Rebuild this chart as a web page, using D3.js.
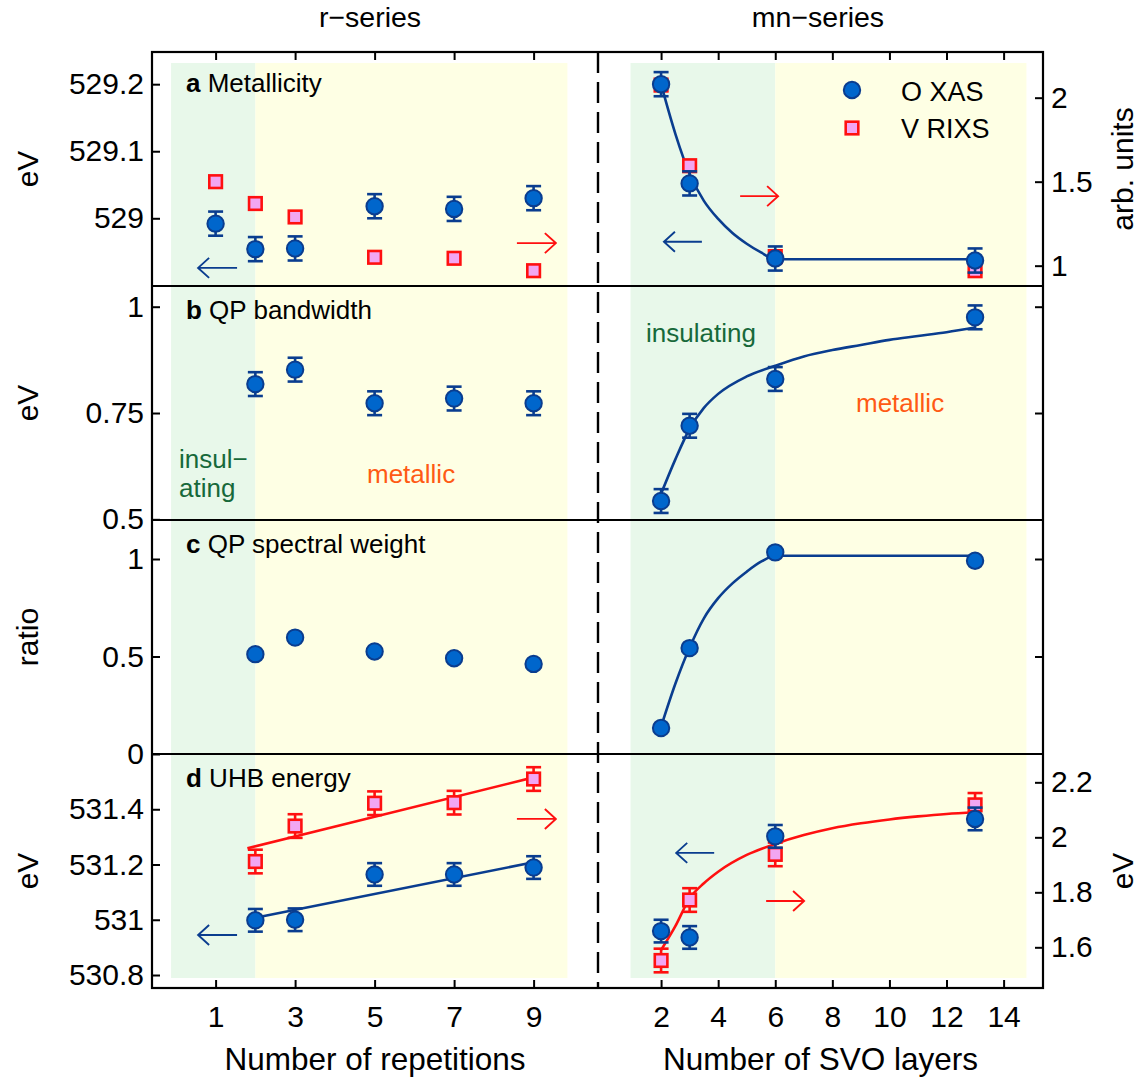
<!DOCTYPE html>
<html>
<head>
<meta charset="utf-8">
<script src="https://cdn.jsdelivr.net/npm/d3@7"></script>
<style>
  body { margin: 0; background: #fff; }
  svg { display: block; font-family: "Liberation Sans", Arial, sans-serif; }
</style>
</head>
<body>
<script>
// ---- data ----
const rReps = [1, 2, 3, 5, 7, 9];        // r-series, panel a
const rRepsB = [2, 3, 5, 7, 9];          // r-series, panels b-d
const mnLayers = [2, 3, 6, 13];          // mn-series

// a  Metallicity  (O XAS on left eV axis, V RIXS on right arb. units axis)
const aRxas = [528.992, 528.954, 528.955, 529.018, 529.014, 529.030];
const aRrixs = [1.50, 1.37, 1.29, 1.05, 1.044, 0.97];
const aMnXas = [529.200, 529.052, 528.940, 528.937];
const aMnRixs = [2.075, 1.595, 1.054, 0.97];
const aErr = 0.018;
const aFitX = [2, 2.5, 3, 3.5, 4, 4.5, 5, 5.5, 6, 13];
const aFitY = [529.2, 529.126, 529.066, 529.026, 528.999, 528.978, 528.962, 528.949, 528.939, 528.939];

// b  QP bandwidth
const bR = [0.818, 0.852, 0.773, 0.784, 0.773];
const bMn = [0.543, 0.72, 0.83, 0.975];
const bErr = 0.028;
const bFitX = [2, 2.5, 3, 3.5, 4, 5, 6, 7, 8, 9, 10, 11, 12, 13];
const bFitY = [0.56, 0.641, 0.713, 0.762, 0.795, 0.836, 0.861, 0.883, 0.898, 0.910, 0.922, 0.931, 0.940, 0.951];

// c  QP spectral weight
const cR = [0.512, 0.597, 0.526, 0.491, 0.462];
const cMn = [0.133, 0.543, 1.034, 0.991];
const cFitX = [2, 2.5, 3, 3.5, 4, 4.5, 5, 5.5, 6, 13];
const cFitY = [0.14, 0.36, 0.546, 0.696, 0.799, 0.875, 0.935, 0.986, 1.017, 1.017];

// d  UHB energy  (O XAS on left eV axis, V RIXS on right eV axis)
const dRxas = [530.998, 531.0, 531.164, 531.164, 531.189];
const dRrixs = [1.912, 2.041, 2.124, 2.126, 2.212];
const dMnXas = [530.959, 530.936, 531.302, 531.365];
const dMnRixs = [1.552, 1.772, 1.938, 2.118];
const dErrXas = 0.041, dErrRixs = 0.043;
const dRFitXasX = [2, 9], dRFitXasY = [531.007, 531.208];
const dRFitRixsX = [1.8, 9], dRFitRixsY = [1.96, 2.218];
const dMnFitX = [2, 2.5, 3, 3.5, 4, 5, 6, 7, 8, 9, 10, 11, 12, 13];
const dMnFitY = [1.59, 1.677, 1.778, 1.833, 1.875, 1.936, 1.976, 2.008, 2.033, 2.051, 2.065, 2.076, 2.085, 2.091];

// axis ticks
const xTicksR = [1, 3, 5, 7, 9];
const xTicksMn = [2, 4, 6, 8, 10, 12, 14];
const yTicksL = [[529.2, 529.1, 529], [1, 0.75, 0.5], [1, 0.5, 0], [531.4, 531.2, 531, 530.8]];
const yTicksR = [[2, 1.5, 1], [1, 0.75], [1, 0.5], [2.2, 2, 1.8, 1.6]];
const yLabelsL = ["eV", "eV", "ratio", "eV"];
const panelNames = [["a", " Metallicity"], ["b", " QP bandwidth"], ["c", " QP spectral weight"], ["d", " UHB energy"]];

// regime shading (insulating | metallic) in x units
const regimeR = [-0.12, 2, 9.85];
const regimeMn = [0.93, 6, 14.8];

// ---- layout ----
const W = 1142, H = 1081;
const L = 152, M = 598, R = 1043;
const rowTop = [52, 286, 520, 754], rowH = 234, bottom = 988;
const blue = "#0066cc", navy = "#0a3d8f", pink = "#f2a6f2", red = "#ff1010";
const green = "#e8f8ea", yellow = "#feffe4";

const svg = d3.create("svg").attr("width", W).attr("height", H).attr("viewBox", `0 0 ${W} ${H}`);

const xR = d3.scaleLinear().domain([-0.6, 10.62]).range([L, M]);
const xMn = d3.scaleLinear().domain([-0.21, 15.38]).range([M, R]);

const yDomL = [[528.899, 529.248], [0.4984, 1.0487], [0, 1.2], [530.753, 531.6]];
const yDomR = [[0.879, 2.272], [0.4984, 1.0487], [0, 1.2], [1.452, 2.303]];
const yL = yDomL.map((d, i) => d3.scaleLinear().domain(d).range([rowTop[i] + rowH, rowTop[i]]));
const yRt = yDomR.map((d, i) => d3.scaleLinear().domain(d).range([rowTop[i] + rowH, rowTop[i]]));

const fmt = d => String(+d.toFixed(3));

// shading bands
const bands = [
  {x: xR, a: regimeR[0], b: regimeR[1], c: green}, {x: xR, a: regimeR[1], b: regimeR[2], c: yellow},
  {x: xMn, a: regimeMn[0], b: regimeMn[1], c: green}, {x: xMn, a: regimeMn[1], b: regimeMn[2], c: yellow}
];
svg.append("g").selectAll("rect").data(bands).join("rect")
  .attr("x", d => d.x(d.a)).attr("width", d => d.x(d.b) - d.x(d.a))
  .attr("y", 63).attr("height", 978 - 63).attr("fill", d => d.c);

// axes
rowTop.forEach((top, i) => {
  const gl = svg.append("g").attr("transform", `translate(${L},0)`)
    .call(d3.axisLeft(yL[i]).tickValues(yTicksL[i]).tickSize(-8).tickPadding(8).tickFormat(fmt));
  const gr = svg.append("g").attr("transform", `translate(${R},0)`)
    .call(d3.axisRight(yRt[i]).tickValues(yTicksR[i]).tickSize(-8).tickPadding(8)
      .tickFormat(i === 0 || i === 3 ? fmt : () => ""));
  [gl, gr].forEach(g => {
    g.select(".domain").remove();
    g.selectAll("line").attr("stroke", "#000").attr("stroke-width", 2);
    g.selectAll("text").attr("font-size", 30).attr("fill", "#000").attr("font-family", null);
  });
  // left axis title
  svg.append("text")
    .attr("transform", `translate(38,${top + rowH / 2}) rotate(-90)`)
    .attr("text-anchor", "middle").attr("font-size", 30).text(yLabelsL[i]);
  // panel label
  const t = svg.append("text").attr("x", 186).attr("y", top + (i === 0 ? 40 : 33)).attr("font-size", 26);
  t.append("tspan").attr("font-weight", "bold").text(panelNames[i][0]);
  t.append("tspan").text(panelNames[i][1]);
});

svg.append("text").attr("transform", `translate(1133,${rowTop[0] + rowH / 2}) rotate(-90)`)
  .attr("text-anchor", "middle").attr("font-size", 30).text("arb. units");
svg.append("text").attr("transform", `translate(1133,${rowTop[3] + rowH / 2}) rotate(-90)`)
  .attr("text-anchor", "middle").attr("font-size", 30).text("eV");

// x axes (bottom labelled, top ticks only)
[[xR, xTicksR], [xMn, xTicksMn]].forEach(([x, tv]) => {
  const gb = svg.append("g").attr("transform", `translate(0,${bottom})`)
    .call(d3.axisBottom(x).tickValues(tv).tickSize(-8).tickFormat(fmt));
  gb.selectAll("text").attr("y", 39).attr("dy", null).attr("font-size", 30).attr("fill", "#000").attr("font-family", null);
  const gt = svg.append("g").attr("transform", `translate(0,${rowTop[0]})`)
    .call(d3.axisTop(x).tickValues(tv).tickSize(-8).tickFormat(() => ""));
  [gb, gt].forEach(g => {
    g.select(".domain").remove();
    g.selectAll("line").attr("stroke", "#000").attr("stroke-width", 2);
  });
});

svg.append("text").attr("x", (L + M) / 2).attr("y", 1070).attr("text-anchor", "middle")
  .attr("font-size", 31.5).text("Number of repetitions");
svg.append("text").attr("x", (M + R) / 2).attr("y", 1070).attr("text-anchor", "middle")
  .attr("font-size", 31.5).text("Number of SVO layers");
svg.append("text").attr("x", 370).attr("y", 27).attr("text-anchor", "middle")
  .attr("font-size", 28.5).text("r\u2212series");
svg.append("text").attr("x", 818).attr("y", 27).attr("text-anchor", "middle")
  .attr("font-size", 28.5).text("mn\u2212series");

// frame, separators, dashed divider
svg.append("rect").attr("x", L).attr("y", rowTop[0]).attr("width", R - L).attr("height", bottom - rowTop[0])
  .attr("fill", "none").attr("stroke", "#000").attr("stroke-width", 2.2);
rowTop.slice(1).forEach(y => svg.append("line").attr("x1", L).attr("x2", R).attr("y1", y).attr("y2", y)
  .attr("stroke", "#000").attr("stroke-width", 2));
svg.append("line").attr("x1", M).attr("x2", M).attr("y1", rowTop[0]).attr("y2", bottom)
  .attr("stroke", "#000").attr("stroke-width", 2.4).attr("stroke-dasharray", "21,9");

// fit curves
const fits = [
  {p: 0, x: xMn, xs: aFitX, ys: aFitY, y: "L", c: navy},
  {p: 1, x: xMn, xs: bFitX, ys: bFitY, y: "L", c: navy},
  {p: 2, x: xMn, xs: cFitX, ys: cFitY, y: "L", c: navy},
  {p: 3, x: xR, xs: dRFitRixsX, ys: dRFitRixsY, y: "R", c: red},
  {p: 3, x: xR, xs: dRFitXasX, ys: dRFitXasY, y: "L", c: navy},
  {p: 3, x: xMn, xs: dMnFitX, ys: dMnFitY, y: "R", c: red}
];
fits.forEach(f => {
  const ys = f.y === "L" ? yL[f.p] : yRt[f.p];
  const line = d3.line().x(d => f.x(d[0])).y(d => ys(d[1])).curve(d3.curveMonotoneX);
  svg.append("path").datum(d3.zip(f.xs, f.ys)).attr("d", line)
    .attr("fill", "none").attr("stroke", f.c).attr("stroke-width", 2.6);
});

// marker series
const series = [
  {p: 0, x: xR, xs: rReps, ys: aRrixs, y: "R", kind: "sq", err: 0},
  {p: 0, x: xMn, xs: mnLayers, ys: aMnRixs, y: "R", kind: "sq", err: 0},
  {p: 3, x: xR, xs: rRepsB, ys: dRrixs, y: "R", kind: "sq", err: dErrRixs},
  {p: 3, x: xMn, xs: mnLayers, ys: dMnRixs, y: "R", kind: "sq", err: dErrRixs},
  {p: 0, x: xR, xs: rReps, ys: aRxas, y: "L", kind: "ci", err: aErr},
  {p: 0, x: xMn, xs: mnLayers, ys: aMnXas, y: "L", kind: "ci", err: aErr},
  {p: 1, x: xR, xs: rRepsB, ys: bR, y: "L", kind: "ci", err: bErr},
  {p: 1, x: xMn, xs: mnLayers, ys: bMn, y: "L", kind: "ci", err: bErr},
  {p: 2, x: xR, xs: rRepsB, ys: cR, y: "L", kind: "ci", err: 0},
  {p: 2, x: xMn, xs: mnLayers, ys: cMn, y: "L", kind: "ci", err: 0},
  {p: 3, x: xR, xs: rRepsB, ys: dRxas, y: "L", kind: "ci", err: dErrXas},
  {p: 3, x: xMn, xs: mnLayers, ys: dMnXas, y: "L", kind: "ci", err: dErrXas}
];
series.forEach(s => {
  const ys = s.y === "L" ? yL[s.p] : yRt[s.p];
  const pts = d3.zip(s.xs, s.ys);
  const col = s.kind === "ci" ? navy : red;
  const g = svg.append("g");
  if (s.err) {
    const eb = g.selectAll("g.eb").data(pts).join("g").attr("stroke", col).attr("stroke-width", 2.6);
    eb.append("line").attr("x1", d => s.x(d[0])).attr("x2", d => s.x(d[0]))
      .attr("y1", d => ys(d[1] - s.err)).attr("y2", d => ys(d[1] + s.err));
    [-1, 1].forEach(k => eb.append("line")
      .attr("x1", d => s.x(d[0]) - 7.5).attr("x2", d => s.x(d[0]) + 7.5)
      .attr("y1", d => ys(d[1] + k * s.err)).attr("y2", d => ys(d[1] + k * s.err)));
  }
  if (s.kind === "ci") {
    g.selectAll("circle").data(pts).join("circle")
      .attr("cx", d => s.x(d[0])).attr("cy", d => ys(d[1])).attr("r", 8.2)
      .attr("fill", blue).attr("stroke", navy).attr("stroke-width", 2);
  } else {
    g.selectAll("rect").data(pts).join("rect")
      .attr("x", d => s.x(d[0]) - 6.3).attr("y", d => ys(d[1]) - 6.3).attr("width", 12.6).attr("height", 12.6)
      .attr("fill", pink).attr("stroke", red).attr("stroke-width", 2.6);
  }
});

// axis-pointing arrows, in data units of the left axis
const arrows = [
  {p: 0, x: xR, x0: 1.54, x1: 0.56, v: 528.926, c: navy},
  {p: 0, x: xR, x0: 8.58, x1: 9.56, v: 528.963, c: red},
  {p: 0, x: xMn, x0: 4.77, x1: 6.1, v: 529.033, c: red},
  {p: 0, x: xMn, x0: 3.43, x1: 2.10, v: 528.965, c: navy},
  {p: 3, x: xR, x0: 8.58, x1: 9.56, v: 531.365, c: red},
  {p: 3, x: xR, x0: 1.54, x1: 0.56, v: 530.945, c: navy},
  {p: 3, x: xMn, x0: 3.86, x1: 2.53, v: 531.242, c: navy},
  {p: 3, x: xMn, x0: 5.68, x1: 7.01, v: 531.068, c: red}
];
arrows.forEach(a => {
  const y = yL[a.p](a.v), xa = a.x(a.x0), xb = a.x(a.x1), dir = Math.sign(xb - xa);
  svg.append("path")
    .attr("d", `M${xa},${y}H${xb}M${xb - dir * 11},${y - 10}L${xb},${y}L${xb - dir * 11},${y + 10}`)
    .attr("fill", "none").attr("stroke", a.c).attr("stroke-width", 1.9);
});

// legend
const lg = svg.append("g").attr("font-size", 27);
lg.append("circle").attr("cx", 852).attr("cy", 90).attr("r", 8.2)
  .attr("fill", blue).attr("stroke", navy).attr("stroke-width", 2);
lg.append("text").attr("x", 901).attr("y", 101).text("O XAS");
lg.append("rect").attr("x", 845.7).attr("y", 121.7).attr("width", 12.6).attr("height", 12.6)
  .attr("fill", pink).attr("stroke", red).attr("stroke-width", 2.6);
lg.append("text").attr("x", 901).attr("y", 138).text("V RIXS");

// regime labels
const regimeText = [
  {x: 646, y: 342, t: "insulating", c: "#17693a"},
  {x: 856, y: 412, t: "metallic", c: "#ff5a14"},
  {x: 179, y: 468, t: "insul\u2212", c: "#17693a"},
  {x: 179, y: 497, t: "ating", c: "#17693a"},
  {x: 367, y: 483, t: "metallic", c: "#ff5a14"}
];
svg.append("g").attr("font-size", 26).selectAll("text").data(regimeText).join("text")
  .attr("x", d => d.x).attr("y", d => d.y).attr("fill", d => d.c).text(d => d.t);

document.body.appendChild(svg.node());
</script>
</body>
</html>
